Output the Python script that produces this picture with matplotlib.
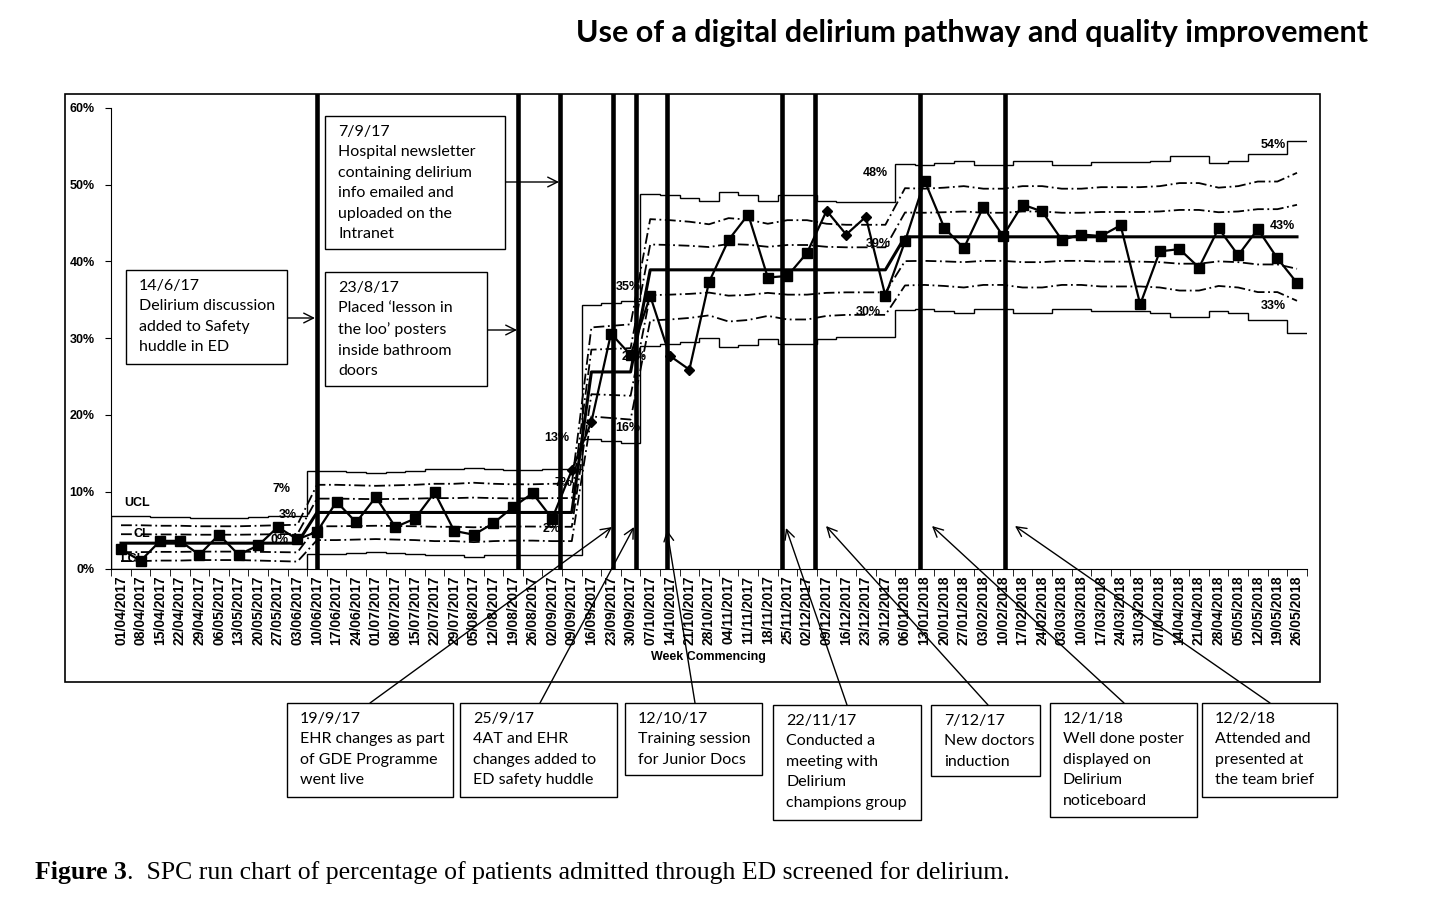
import numpy as np
import pandas as pd
import matplotlib
matplotlib.use('Agg')
import matplotlib.pyplot as plt
from matplotlib.patches import Rectangle

W, H = 1435, 918
plt.rcParams['font.family'] = ['Liberation Sans', 'DejaVu Sans']

# weekly categories
weeks = pd.date_range('2017-04-01', periods=61, freq='7D').strftime('%d/%m/%Y').tolist()

# % of ED admissions screened for delirium, per week
pct_screened = [2.5, 1.0, 3.6, 3.6, 1.8, 4.4, 1.8, 3.0, 5.4, 3.8,
                4.8, 8.7, 6.0, 9.3, 5.4, 6.5, 9.9, 4.9, 4.4, 5.9,
                8.0, 9.8, 6.5, 12.8, 19.1, 30.6, 27.8, 35.5, 27.7, 25.9,
                37.3, 42.8, 46.1, 37.9, 38.1, 41.1, 46.6, 43.5, 45.8, 35.5,
                42.6, 50.5, 44.4, 41.7, 47.1, 43.3, 47.4, 46.5, 42.8, 43.5,
                43.3, 44.7, 34.4, 41.3, 41.6, 39.2, 44.3, 40.8, 44.2, 40.4,
                37.2]
diamond_weeks = [23, 24, 28, 29, 36, 37, 38]

# SPC phases: first week of each phase and its centre line
phase_start = [0, 10, 24, 27, 40]
phase_cl = [3.3, 7.3, 25.6, 38.9, 43.2]

# upper control limit per week
ucl = [6.8, 6.8, 6.7, 6.7, 6.6, 6.6, 6.6, 6.7, 6.8, 6.9,
       12.7, 12.7, 12.6, 12.5, 12.6, 12.7, 12.9, 12.9, 13.1, 12.9,
       12.8, 12.8, 12.9, 12.9,
       34.3, 34.6, 34.9,
       48.8, 48.6, 48.3, 47.8, 49.0, 48.7, 47.9, 48.6, 48.6, 47.9,
       47.7, 47.7, 47.7,
       52.7, 52.6, 52.8, 53.1, 52.6, 52.6, 53.1, 53.1, 52.6, 52.6,
       52.9, 52.9, 52.9, 53.1, 53.7, 53.7, 52.8, 53.1, 54.0, 54.0,
       55.7]

# intervention lines (week position)
event_pos = [9.98, 20.27, 22.4, 25.09, 26.26, 27.84, 33.74, 35.4, 40.77, 45.1]

# value labels on the chart: (text, week pos, value)
value_labels = [('UCL', 0.8, 8.5), ('CL', 1.06, 4.5), ('LCL', 0.55, 1.2),
                ('7%', 8.2, 10.4), ('3%', 8.52, 7.0), ('0%', 8.11, 3.7),
                ('7%', 22.57, 11.1), ('2%', 21.97, 5.1), ('13%', 22.23, 17.0),
                ('35%', 25.88, 36.7), ('16%', 25.88, 18.3), ('26%', 26.17, 27.6),
                ('48%', 38.47, 51.5), ('39%', 38.64, 42.2), ('30%', 38.13, 33.4),
                ('54%', 58.79, 55.2), ('43%', 59.27, 44.6), ('33%', 58.79, 34.2)]

# annotation boxes: (left, top, right, bottom) in px, text, arrow start px, arrow tip px
notes = [
    ((126, 270, 287, 364), "14/6/17\nDelirium discussion\nadded to Safety\nhuddle in ED", (287, 318), (315, 318)),
    ((325, 116, 505, 249), "7/9/17\nHospital newsletter\ncontaining delirium\ninfo emailed and\nuploaded on the\nIntranet", (505, 182), (559, 182)),
    ((325, 272, 487, 386), "23/8/17\nPlaced \u2018lesson in\nthe loo\u2019 posters\ninside bathroom\ndoors", (487, 330), (517, 330)),
    ((287, 703, 453, 797), "19/9/17\nEHR changes as part\nof GDE Programme\nwent live", (370, 703), (612, 527)),
    ((460, 703, 617, 797), "25/9/17\n4AT and EHR\nchanges added to\nED safety huddle", (540, 703), (634, 527)),
    ((625, 703, 762, 775), "12/10/17\nTraining session\nfor Junior Docs", (695, 703), (667, 530)),
    ((773, 705, 921, 820), "22/11/17\nConducted a\nmeeting with\nDelirium\nchampions group", (847, 705), (786, 528)),
    ((931, 705, 1040, 776), "7/12/17\nNew doctors\ninduction", (988, 705), (826, 526)),
    ((1050, 703, 1197, 817), "12/1/18\nWell done poster\ndisplayed on\nDelirium\nnoticeboard", (1124, 703), (932, 526)),
    ((1202, 703, 1337, 797), "12/2/18\nAttended and\npresented at\nthe team brief", (1270, 703), (1015, 526)),
]


def fx(x):
    return x / W


def fy(y):
    return 1 - y / H


x = np.arange(len(weeks))
pct = np.array(pct_screened)
ucl = np.array(ucl)
cl = np.repeat(phase_cl, np.diff(phase_start + [len(weeks)]))
sigma = (ucl - cl) / 3
lcl = np.clip(cl - 3 * sigma, 0, None)

fig = plt.figure(figsize=(W / 100, H / 100), dpi=100)
ax = fig.add_axes([fx(111.2), fy(568.5), fx(1306.8 - 111.2), (568.5 - 94) / H])

# control limits as steps
edges = np.arange(len(weeks) + 1) - 0.5
ax.stairs(ucl, edges, baseline=None, color='k', lw=1.0)
ax.stairs(lcl, edges, baseline=None, color='k', lw=1.0)
ax.vlines(edges[0], lcl[0], ucl[0], color='k', lw=1.0)

# sigma lines
for k in (1, 2):
    ax.plot(x, cl + k * sigma, color='k', lw=1.3, dashes=(6, 2, 1, 2))
    ax.plot(x, np.clip(cl - k * sigma, 0, None), color='k', lw=1.3, dashes=(6, 2, 1, 2))
ax.plot(x, cl, color='k', lw=2.2)

for p in event_pos:
    ax.axvline(p, color='k', lw=3.3, zorder=3)

ax.plot(x, pct, color='k', lw=1.6, zorder=4)
sq = [i for i in x if i not in diamond_weeks]
ax.plot(x[sq], pct[sq], 's', color='k', ms=7.5, zorder=5)
ax.plot(x[diamond_weeks], pct[diamond_weeks], 'D', color='k', ms=5, zorder=5)

for s, px_, py_ in value_labels:
    ax.text(px_, py_, s, ha='center', va='center', fontsize=9, fontweight='bold', zorder=4.5)

ax.set_xlim(-0.5, len(weeks) - 0.5)
ax.set_ylim(0, 61.8)
ax.spines['top'].set_visible(False)
ax.spines['right'].set_visible(False)
ax.spines['left'].set_bounds(0, 60)
ax.set_yticks(range(0, 61, 10))
ax.set_yticklabels([f'{v}%' for v in range(0, 61, 10)], fontsize=9, fontweight='bold')
ax.tick_params(axis='y', direction='out', length=4, pad=8)
ax.set_xticks(x)
ax.set_xticklabels(weeks, rotation=90, fontsize=10, fontweight='bold')
ax.set_xticks(edges, minor=True)
ax.tick_params(axis='x', which='major', length=0, pad=5)
ax.tick_params(axis='x', which='minor', length=5, direction='out')

fig.text(fx(708), fy(657), 'Week Commencing', ha='center', va='center', fontsize=9, fontweight='bold')

# outer chart frame
fig.add_artist(Rectangle((fx(65), fy(682)), fx(1320 - 65), (682 - 94) / H,
                         transform=fig.transFigure, fill=False, ec='k', lw=1.2))

for (l, t, r, b), txt, start, tip in notes:
    fig.add_artist(Rectangle((fx(l), fy(b)), fx(r - l), (b - t) / H, transform=fig.transFigure,
                             fc='white', ec='k', lw=1.0, zorder=6))
    fig.text(fx(l + 13), fy(t + 9), txt, ha='left', va='top', fontsize=11.5, family='Lato',
             linespacing=1.58, zorder=7)
    ax.annotate('', xy=(fx(tip[0]), fy(tip[1])), xytext=(fx(start[0]), fy(start[1])),
                xycoords='figure fraction', textcoords='figure fraction', annotation_clip=False,
                arrowprops=dict(arrowstyle='->,head_length=0.7,head_width=0.35', color='k', lw=1.0,
                                shrinkA=0, shrinkB=0), zorder=6)

fig.text(fx(1368), fy(33), 'Use of a digital delirium pathway and quality improvement',
         ha='right', va='center', fontsize=22, fontweight='bold', family='Lato')

t1 = fig.text(fx(35), fy(872), 'Figure 3', ha='left', va='center', fontsize=18.5,
              fontweight='bold', family='Liberation Serif')
ax.annotate('.  SPC run chart of percentage of patients admitted through ED screened for delirium.',
            xy=(1, 0), xycoords=t1, va='bottom', ha='left', fontsize=18.5,
            family='Liberation Serif', annotation_clip=False)

fig.savefig('out.png', dpi=100)
